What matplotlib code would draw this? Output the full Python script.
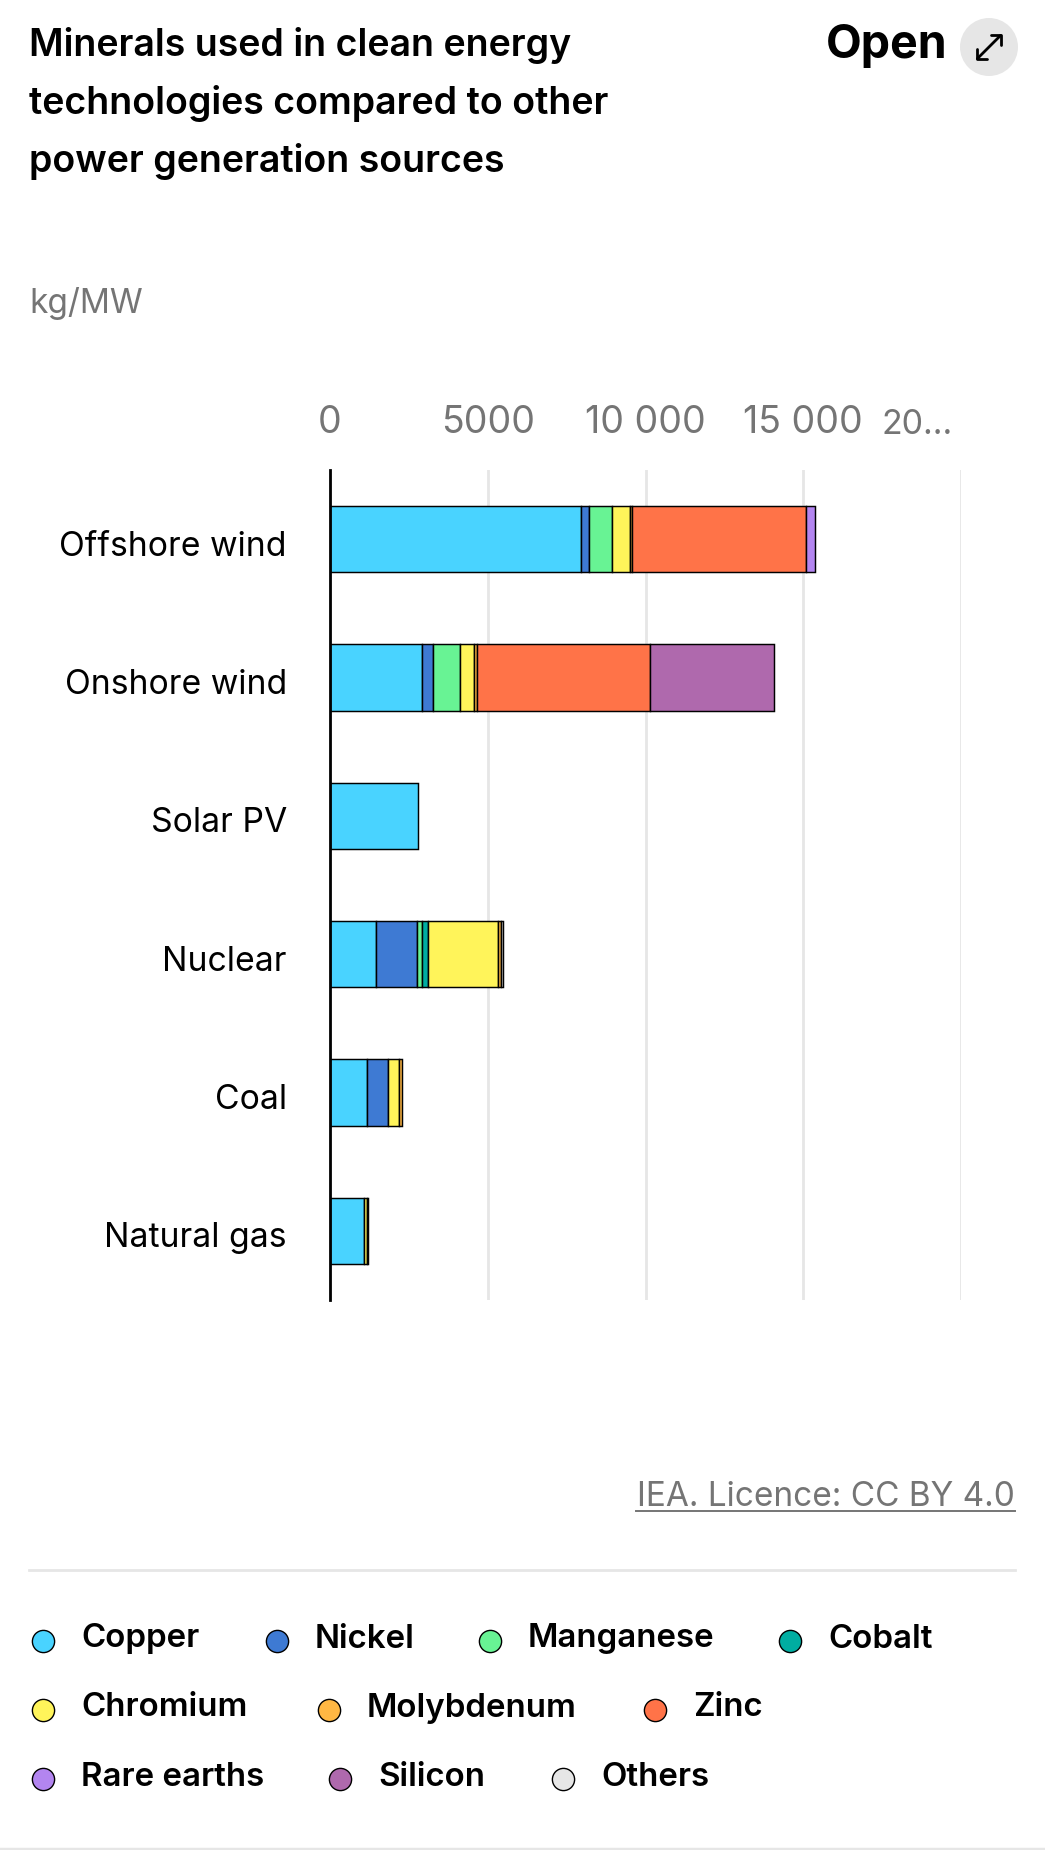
"""Minerals used in clean energy technologies, stacked horizontal bars."""
import numpy as np
import matplotlib
matplotlib.use("Agg")
import matplotlib.pyplot as plt
from matplotlib.patches import Circle
from matplotlib.transforms import ScaledTranslation

W, H = 1045, 1850
FONT = "Inter"
GREY = "#757575"
plt.rcParams["font.family"] = [FONT, "DejaVu Sans"]

categories = ["Offshore wind", "Onshore wind", "Solar PV", "Nuclear", "Coal", "Natural gas"]
minerals = ["Copper", "Nickel", "Manganese", "Cobalt", "Chromium",
            "Molybdenum", "Zinc", "Rare earths", "Silicon", "Others"]
colors = ["#49D3FF", "#3E7AD3", "#68F394", "#00ADA1", "#FFF45A",
          "#FFB743", "#FF7348", "#B385F0", "#AF69AD", "#E6E6E6"]

copper = [7946, 2907, 2800, 1457, 1175, 1084]
nickel = [275, 372, 0, 1297, 648, 0]
manganese = [732, 830, 0, 170, 0, 0]
cobalt = [0, 0, 0, 191, 0, 0]
chromium = [547, 448, 0, 2200, 361, 90]
molybdenum = [87, 109, 0, 96, 85, 16]
zinc = [5498, 5476, 0, 0, 0, 0]
rare_earths = [284, 0, 0, 0, 0, 0]
silicon = [0, 3935, 0, 0, 0, 0]
others = [0, 0, 0, 70, 0, 0]
series = [copper, nickel, manganese, cobalt, chromium, molybdenum,
          zinc, rare_earths, silicon, others]

xticks = [0, 5000, 10000, 15000, 20000]
xticklabels = ["0", "5000", "10 000", "15 000", "20..."]

fig = plt.figure(figsize=(W / 100, H / 100), dpi=100, facecolor="white")

# page furniture lives on a full-figure axes in pixel coordinates
bg = fig.add_axes([0, 0, 1, 1])
bg.set_xlim(0, W)
bg.set_ylim(H, 0)
bg.set_axis_off()

for y, line in zip([46, 104, 161], ["Minerals used in clean energy",
                                    "technologies compared to other",
                                    "power generation sources"]):
    bg.text(29, y, line, fontsize=27, fontweight=600, va="center", color="black")
bg.text(29, 304, "kg/MW", fontsize=24, color=GREY, va="center")

bg.text(947, 46, "Open", fontsize=33.5, fontweight="bold", ha="right", va="center")
bg.add_patch(Circle((989, 47), 29, color="#E6E6E6", lw=0))
bg.annotate("", xy=(1002, 34), xytext=(976, 60),
            arrowprops=dict(arrowstyle="<->,head_length=0.5,head_width=0.5", color="black",
                            lw=2, shrinkA=0, shrinkB=0))

bg.text(1015, 1497, "IEA. Licence: CC BY 4.0", fontsize=24, color=GREY,
        ha="right", va="center")
bg.plot([636, 1015], [1511, 1511], color=GREY, lw=1.4)
bg.plot([29, 1015], [1570, 1570], color="#E6E6E6", lw=2)
bg.plot([0, W], [1849, 1849], color="#E6E6E6", lw=2.5)

# chart
ax = fig.add_axes([330 / W, 1 - 1300 / H, 631 / W, 830 / H])
ax.patch.set_alpha(0)
y = np.arange(len(categories))
left = np.zeros(len(categories))
for name, vals, c in zip(minerals, series, colors):
    vals = np.array(vals, dtype=float)
    ax.barh(y[vals > 0], vals[vals > 0], left=left[vals > 0], height=0.48,
            color=c, edgecolor="black", linewidth=1.05, zorder=3, label=name)
    left += vals

ax.set_xlim(0, 20000)
ax.set_ylim(5.5, -0.5)
ax.set_xticks(xticks)
ax.set_xticklabels(xticklabels, fontsize=27, color=GREY)
ax.xaxis.tick_top()
ax.tick_params(axis="x", length=0, pad=21)
# the last tick label is clipped by the page in the original, so it sits left of its tick
last = ax.get_xticklabels()[-1]
last.set_ha("right")
last.set_fontsize(24.5)
last.set_transform(last.get_transform() + ScaledTranslation(-8 / 100, 0, fig.dpi_scale_trans))
ax.set_yticks(y)
ax.set_yticklabels(categories, fontsize=24.3, color="black")
ax.tick_params(axis="y", length=0, pad=31)
for lab in ax.get_yticklabels():
    lab.set_transform(lab.get_transform() + ScaledTranslation(0, -4 / 100, fig.dpi_scale_trans))
ax.grid(axis="x", color="#E6E6E6", lw=2, zorder=1)
for s in ["top", "right", "bottom"]:
    ax.spines[s].set_visible(False)
ax.spines["left"].set_linewidth(2)
ax.spines["left"].set_zorder(4)

# legend: wrapped rows, positions by hand
legend_rows = [(1641, [43, 277, 490, 790]), (1710, [43, 329, 655]), (1779, [43, 340, 563])]
i = 0
for ly, xs in legend_rows:
    for lx in xs:
        bg.scatter([lx], [ly], s=256, color=colors[i], edgecolor="black", linewidth=1)
        bg.text(lx + 38, ly - 2, minerals[i], fontsize=23.8, fontweight=600, va="center")
        i += 1

fig.savefig("out.png", dpi=100)
